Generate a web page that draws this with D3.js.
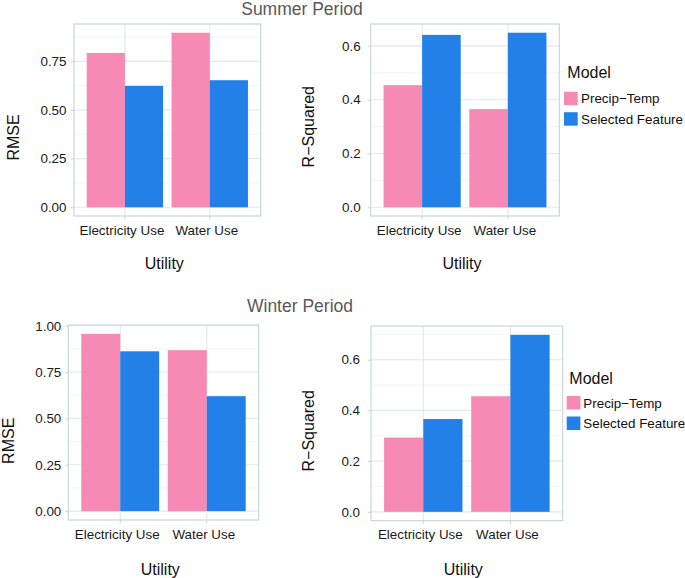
<!DOCTYPE html>
<html><head><meta charset="utf-8">
<script src="https://cdn.jsdelivr.net/npm/d3@7"></script>
<style>body{margin:0;background:#fff}svg{display:block;font-family:"Liberation Sans",Arial,Helvetica,sans-serif}</style>
</head><body><svg id="chart" width="685" height="578"></svg>
<script>
// ---- data ----
const categories = ["Electricity Use", "Water Use"];
const models = ["Precip\u2212Temp", "Selected Feature"];
const summerRmsePrecip = [0.793, 0.897];
const summerRmseSelected = [0.624, 0.653];
const summerR2Precip = [0.454, 0.365];
const summerR2Selected = [0.641, 0.649];
const winterRmsePrecip = [0.956, 0.868];
const winterRmseSelected = [0.862, 0.620];
const winterR2Precip = [0.293, 0.456];
const winterR2Selected = [0.366, 0.698];
const rmseTicksSummer = ["0.00", "0.25", "0.50", "0.75"];
const rmseTicksWinter = ["0.00", "0.25", "0.50", "0.75", "1.00"];
const r2Ticks = ["0.0", "0.2", "0.4", "0.6"];
const titles = ["Summer Period", "Winter Period"];
const xTitle = "Utility";
const legendTitle = "Model";
const colors = ["#f78ab4", "#2380e8"];

const svg = d3.select("#chart");
const color = d3.scaleOrdinal().domain(models).range(colors);

function drawPanel(o) {
  const g = svg.append("g");
  const vals = o.precip.concat(o.selected);
  const max = d3.max(vals);
  const y = d3.scaleLinear().domain([-0.05 * max, max * 1.05]).range([o.b, o.t]);
  const x = d3.scaleBand().domain(categories).range([o.l, o.r]).paddingInner(0.1).paddingOuter(0.15);
  const xm = d3.scaleBand().domain(models).range([0, x.bandwidth()]);
  const ticks = o.ticks.map(Number);
  const step = ticks[1] - ticks[0];
  const dom = y.domain();
  let minors = ticks.map(t => t + step / 2);
  minors.push(ticks[0] - step / 2);
  minors = minors.filter(m => m > dom[0] && m < dom[1]);

  g.append("rect").attr("x", o.l).attr("y", o.t).attr("width", o.r - o.l).attr("height", o.b - o.t).attr("fill", "#fff");
  g.selectAll(".mn").data(minors).join("line")
    .attr("x1", o.l).attr("x2", o.r).attr("y1", d => y(d)).attr("y2", d => y(d))
    .attr("stroke", "#eef2f4").attr("stroke-width", 0.8);
  g.selectAll(".mj").data(ticks).join("line")
    .attr("x1", o.l).attr("x2", o.r).attr("y1", d => y(d)).attr("y2", d => y(d))
    .attr("stroke", "#e2e8eb").attr("stroke-width", 1.1);
  g.selectAll(".vj").data(categories).join("line")
    .attr("x1", d => x(d) + x.bandwidth() / 2).attr("x2", d => x(d) + x.bandwidth() / 2)
    .attr("y1", o.t).attr("y2", o.b)
    .attr("stroke", "#e2e8eb").attr("stroke-width", 1.1);

  const rows = [];
  categories.forEach((c, i) => {
    rows.push({c, m: models[0], v: o.precip[i]});
    rows.push({c, m: models[1], v: o.selected[i]});
  });
  g.selectAll(".bar").data(rows).join("rect")
    .attr("x", d => x(d.c) + xm(d.m))
    .attr("width", xm.bandwidth())
    .attr("y", d => y(d.v))
    .attr("height", d => y(0) - y(d.v))
    .attr("fill", d => color(d.m));

  g.append("rect").attr("x", o.l).attr("y", o.t).attr("width", o.r - o.l).attr("height", o.b - o.t)
    .attr("fill", "none").attr("stroke", "#c9d3d7").attr("stroke-width", 1.1);

  const ya = g.append("g").attr("transform", `translate(${o.l},0)`)
    .call(d3.axisLeft(y).tickValues(ticks).tickFormat((d, i) => o.ticks[i]).tickSize(3).tickPadding(o.yPad));
  ya.select(".domain").remove();
  ya.selectAll("line").attr("stroke", "#c9d3d7");
  ya.selectAll("text").attr("fill", "#1a1a1a").style("font-size", "13.4px");

  const xa = g.append("g").attr("transform", `translate(0,${o.b})`)
    .call(d3.axisBottom(x).tickSize(3).tickPadding(6));
  xa.select(".domain").remove();
  xa.selectAll("line").attr("stroke", "#c9d3d7");
  xa.selectAll("text").attr("fill", "#1a1a1a").style("font-size", "13.4px").attr("dx", -3);

  g.append("text").attr("x", o.xtx).attr("y", o.xty).attr("text-anchor", "middle")
    .style("font-size", "16px").attr("fill", "#111").text(xTitle);
  g.append("text").attr("transform", `translate(${o.ytx},${o.yty}) rotate(-90)`).attr("text-anchor", "middle")
    .style("font-size", "16px").attr("fill", "#111").text(o.yTitle);
}

function drawLegend(lx, ly, kx, ky, tx) {
  const g = svg.append("g");
  g.append("text").attr("x", lx).attr("y", ly).style("font-size", "16px").attr("fill", "#111").text(legendTitle);
  models.forEach((m, i) => {
    g.append("rect").attr("x", kx).attr("y", ky + i * 20.5).attr("width", 13.7).attr("height", 13.5).attr("fill", color(m));
    g.append("text").attr("x", tx).attr("y", ky + i * 20.5 + 11.5).style("font-size", "13.4px").attr("fill", "#111").text(m);
  });
}

svg.append("text").attr("x", 302).attr("y", 15).attr("text-anchor", "middle").style("font-size", "17.5px").attr("fill", "#595959").text(titles[0]);
svg.append("text").attr("x", 300).attr("y", 311.5).attr("text-anchor", "middle").style("font-size", "17.5px").attr("fill", "#595959").text(titles[1]);

drawPanel({l: 74, r: 260.7, t: 24, b: 216, precip: summerRmsePrecip, selected: summerRmseSelected, ticks: rmseTicksSummer,
  yPad: 4.5, yTitle: "RMSE", ytx: 18.5, yty: 137.5, xtx: 164.3, xty: 269});
drawPanel({l: 370.7, r: 559.3, t: 24, b: 216, precip: summerR2Precip, selected: summerR2Selected, ticks: r2Ticks,
  yPad: 7, yTitle: "R\u2212Squared", ytx: 313.5, yty: 126.7, xtx: 462, xty: 269});
drawPanel({l: 68.3, r: 258.7, t: 325, b: 520, precip: winterRmsePrecip, selected: winterRmseSelected, ticks: rmseTicksWinter,
  yPad: 4, yTitle: "RMSE", ytx: 13.5, yty: 440.8, xtx: 160.3, xty: 574.5});
drawPanel({l: 371, r: 562.7, t: 326, b: 520.7, precip: winterR2Precip, selected: winterR2Selected, ticks: r2Ticks,
  yPad: 8, yTitle: "R\u2212Squared", ytx: 313.5, yty: 430.8, xtx: 463.3, xty: 574.5});

drawLegend(567.3, 78.3, 564, 91.7, 581);
drawLegend(569.3, 384.3, 566.7, 396, 583.3);
</script></body></html>
